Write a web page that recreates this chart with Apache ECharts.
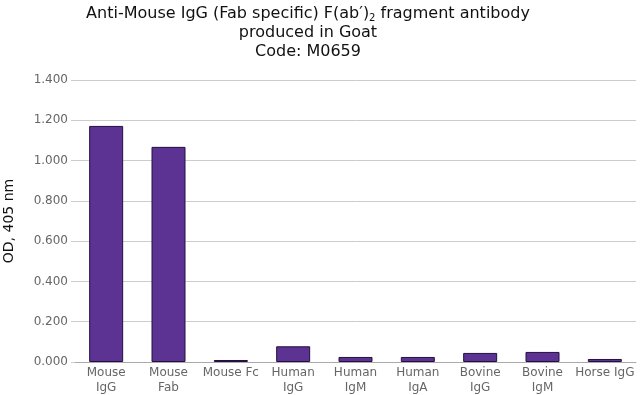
<!DOCTYPE html>
<html>
<head>
<meta charset="utf-8">
<script src="https://cdn.jsdelivr.net/npm/echarts@6/dist/echarts.min.js"></script>
<style>
html,body{margin:0;padding:0;background:#fff;}
#chart{width:640px;height:395px;}
</style>
</head>
<body>
<div id="chart"></div>
<script>
const categories = ["Mouse\nIgG", "Mouse\nFab", "Mouse Fc", "Human\nIgG", "Human\nIgM", "Human\nIgA", "Bovine\nIgG", "Bovine\nIgM", "Horse IgG"];
const odValues = [1.172, 1.068, 0.010, 0.078, 0.025, 0.025, 0.045, 0.050, 0.015];
const yMin = 0, yMax = 1.4, yStep = 0.2;

const chart = echarts.init(document.getElementById('chart'), null, {renderer: 'canvas'});
const font = '"DejaVu Sans", Verdana, sans-serif';
chart.setOption({
  animation: false,
  backgroundColor: '#fff',
  title: {
    text: 'Anti-Mouse IgG (Fab specific) F(ab\u2032){sub|2} fragment antibody\nproduced in Goat\nCode: M0659',
    left: 303,
    top: -1,
    textAlign: 'center',
    textStyle: {
      fontFamily: font,
      fontSize: 16,
      fontWeight: 'normal',
      color: '#111111',
      lineHeight: 19,
      rich: {
        sub: {fontFamily: font, fontSize: 10, color: '#111111', verticalAlign: 'bottom', padding: [8, 0, 0, 0], lineHeight: 19}
      }
    }
  },
  grid: {left: 75, right: 4, top: 80, bottom: 33, containLabel: false, outerBoundsMode: 'none'},
  xAxis: {
    type: 'category',
    data: categories,
    axisLine: {show: true, lineStyle: {color: '#aaaaaa', width: 1}},
    axisTick: {show: false},
    axisLabel: {fontFamily: font, fontSize: 12, color: '#666666', interval: 0, lineHeight: 15, margin: 3}
  },
  yAxis: {
    type: 'value',
    min: yMin, max: yMax, interval: yStep,
    name: 'OD, 405 nm',
    nameLocation: 'middle',
    nameGap: 59,
    nameTextStyle: {fontFamily: font, fontSize: 14, color: '#111111'},
    axisLine: {show: false},
    axisTick: {show: true, length: 4, lineStyle: {color: '#cccccc'}},
    splitLine: {lineStyle: {color: '#cccccc', width: 1}},
    axisLabel: {fontFamily: font, fontSize: 12, color: '#666666', margin: 7, formatter: v => v.toFixed(3)}
  },
  series: [{
    type: 'bar',
    data: odValues,
    barWidth: 34,
    itemStyle: {color: '#5c3393', borderColor: '#24103f', borderWidth: 1}
  }]
});
</script>
</body>
</html>
